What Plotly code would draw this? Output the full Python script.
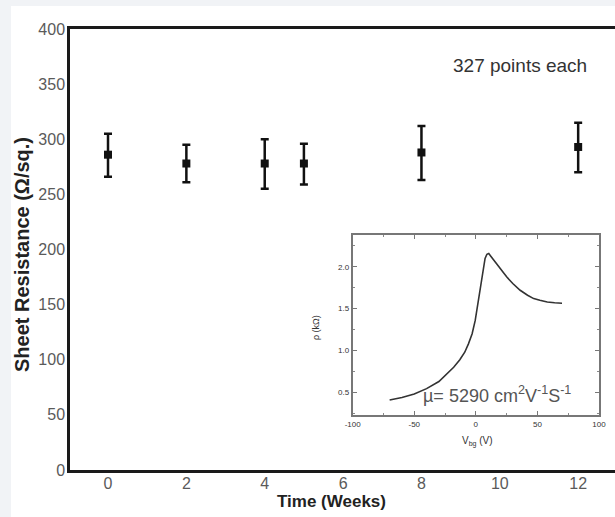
import plotly.graph_objects as go

# Main data: sheet resistance vs time
weeks = [0, 2, 4, 5, 8, 12]
resistance = [286, 278, 278, 278, 288, 293]
err_plus = [19, 17, 22, 18, 24, 22]
err_minus = [20, 17, 23, 19, 25, 23]

main_yticks = [0, 50, 100, 150, 200, 250, 300, 350, 400]
main_xticks = [0, 2, 4, 6, 8, 10, 12]

# Inset data: resistivity vs back-gate voltage
vbg = [-70, -60, -50, -40, -30, -24, -18, -13, -9, -6, -3, -0.5, 1.5, 3.5, 5.5,
       7.5, 9, 10.5, 12, 15.5, 20, 25, 30, 36, 42, 47, 52, 58, 64, 70]
rho = [0.41, 0.44, 0.48, 0.545, 0.63, 0.71, 0.80, 0.89, 0.98, 1.08, 1.20, 1.36, 1.55, 1.77, 1.95,
       2.10, 2.15, 2.16, 2.13, 2.06, 1.97, 1.88, 1.80, 1.72, 1.66, 1.62, 1.60, 1.58, 1.57, 1.565]

inset_xticks = [-100, -50, 0, 50, 100]
inset_yticks = [0.5, 1.0, 1.5, 2.0]

FONT = "Liberation Sans, Arial, sans-serif"

# plot area in pixels: x 70..615, y 29..470
def px_x(p):
    return (p - 70) / 545.0

def px_y(p):
    return (470 - p) / 441.0

fig = go.Figure()

fig.add_trace(go.Scatter(
    x=weeks, y=resistance, mode="markers",
    marker=dict(symbol="square", size=8, color="#111111"),
    error_y=dict(type="data", symmetric=False, array=err_plus, arrayminus=err_minus,
                 color="#111111", thickness=2.5, width=4),
    xaxis="x", yaxis="y", showlegend=False,
))

fig.add_trace(go.Scatter(
    x=vbg, y=rho, mode="lines",
    line=dict(color="#333333", width=1.6),
    xaxis="x2", yaxis="y2", showlegend=False,
))

fig.update_layout(
    width=615, height=517,
    margin=dict(l=70, r=0, t=29, b=47, autoexpand=False),
    paper_bgcolor="#f1f3f6",
    plot_bgcolor="white",
    font=dict(family=FONT, color="#444444"),
    xaxis=dict(
        range=[-0.97, 12.94], tickvals=main_xticks, ticktext=[str(v) for v in main_xticks],
        showline=True, linecolor="#1a1a1a", linewidth=2.5, mirror=True,
        showgrid=False, zeroline=False, ticks="", ticklabelstandoff=-3, automargin=False,
        tickfont=dict(size=16, color="#5a5a5a"),
    ),
    yaxis=dict(
        range=[0, 400], tickvals=main_yticks, ticktext=[str(v) for v in main_yticks],
        showline=True, linecolor="#1a1a1a", linewidth=2.5, mirror=False,
        showgrid=False, zeroline=False, ticks="", ticklabelstandoff=-1, automargin=False,
        tickfont=dict(size=16, color="#5a5a5a"),
    ),
    xaxis2=dict(
        domain=[0.5187, 0.9706], anchor="y2", range=[-100, 100],
        tickvals=inset_xticks, ticktext=[str(v) for v in inset_xticks],
        showline=True, linecolor="#777777", linewidth=2, mirror="ticks",
        ticks="inside", ticklen=4, tickcolor="#777777", tickwidth=1,
        minor=dict(ticks="inside", ticklen=2, tickcolor="#888888", dtick=25),
        showgrid=False, zeroline=False, automargin=False,
        tickfont=dict(size=8, color="#333333"),
    ),
    yaxis2=dict(
        domain=[0.1247, 0.5329], anchor="x2", range=[0.23, 2.38],
        tickvals=inset_yticks, ticktext=["0.5", "1.0", "1.5", "2.0"],
        showline=True, linecolor="#777777", linewidth=2, mirror="ticks",
        ticks="inside", ticklen=4, tickcolor="#777777", tickwidth=1,
        minor=dict(ticks="inside", ticklen=2, tickcolor="#888888", dtick=0.25),
        showgrid=False, zeroline=False, automargin=False,
        tickfont=dict(size=8, color="#333333"),
    ),
    shapes=[dict(type="rect", xref="paper", yref="paper",
                 x0=px_x(11), x1=px_x(620), y0=px_y(520), y1=px_y(6),
                 fillcolor="white", line=dict(width=0), layer="below")],
    annotations=[
        dict(text="<b>Sheet Resistance (Ω/sq.)</b>", xref="paper", yref="paper",
             x=px_x(22), y=px_y(255), xanchor="center", yanchor="middle",
             textangle=-90, showarrow=False,
             font=dict(size=20, color="#222222")),
        dict(text="<b>Time (Weeks)</b>", xref="paper", yref="paper",
             x=px_x(331), y=px_y(501), xanchor="center", yanchor="middle", showarrow=False,
             font=dict(size=17, color="#222222")),
        dict(text="327 points each", xref="paper", yref="paper",
             x=px_x(520), y=px_y(65), xanchor="center", yanchor="middle", showarrow=False,
             font=dict(size=19, color="#333333")),
        dict(text="µ= 5290 cm<sup>2</sup>V<sup>-1</sup>S<sup>-1</sup>", xref="x2", yref="y2",
             x=-44.5, y=0.47, xanchor="left", yanchor="middle", showarrow=False,
             font=dict(size=18, color="#555555")),
        dict(text="V<sub>bg</sub> (V)", xref="paper", yref="paper",
             x=px_x(477), y=px_y(441), xanchor="center", yanchor="middle", showarrow=False,
             font=dict(size=10, color="#333333")),
        dict(text="ρ (kΩ)", xref="paper", yref="paper",
             x=px_x(316), y=px_y(328), xanchor="center", yanchor="middle",
             textangle=-90, showarrow=False,
             font=dict(size=9, color="#333333")),
    ],
)

fig.write_html(
    "out.html",
    config={"displayModeBar": False},
    post_script="document.body.style.margin='0';document.body.style.overflow='hidden';",
)
